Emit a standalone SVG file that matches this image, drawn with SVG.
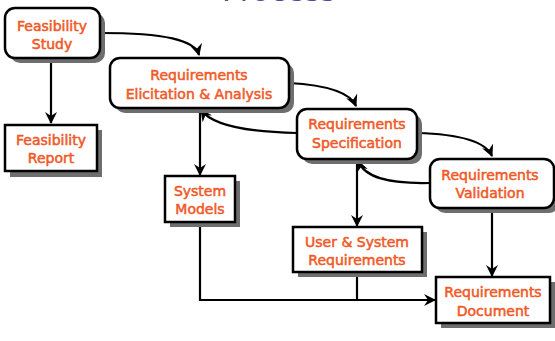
<svg xmlns="http://www.w3.org/2000/svg" width="555" height="341" viewBox="0 0 555 341">
<defs>
<marker id="ah" viewBox="0 0 12 12" refX="11" refY="6" markerWidth="12" markerHeight="12" markerUnits="userSpaceOnUse" orient="auto">
<path d="M0,0 L12,6 L0,12 L4,6 z" fill="#000"/>
</marker>
</defs>
<style>
.box{fill:#fff;stroke:#000;stroke-width:2.5}
.sh{fill:#6e6e6e}
.t{font-family:"Comic Sans MS","DejaVu Sans",sans-serif;font-size:14px;fill:#f05a28;stroke:#f05a28;stroke-width:0.55;text-anchor:middle}
.c{fill:none;stroke:#000;stroke-width:2.2}
.title{font-family:"Comic Sans MS","DejaVu Sans",sans-serif;font-size:30px;fill:#4a4a9a;text-anchor:middle}
</style>
<rect width="555" height="341" fill="#fff"/>
<text class="title" x="279" y="1">Process</text>
<g id="connectors">
<path class="c" d="M100,33 C165,33 195,40 199,55" marker-end="url(#ah)"/>
<path class="c" d="M51,58 L51,123" marker-end="url(#ah)"/>
<path class="c" d="M289,83 C325,85 350,92 356,106" marker-end="url(#ah)"/>
<path class="c" d="M417,133 C455,134 485,140 492,156" marker-end="url(#ah)"/>
<path class="c" d="M430,183 C390,184 365,178 358,161" marker-end="url(#ah)"/>
<path class="c" d="M297,133 C245,132 212,125 201,110" marker-end="url(#ah)"/>
<path class="c" d="M200,108 L200,175" marker-end="url(#ah)"/>
<path class="c" d="M357,159 L357,226" marker-end="url(#ah)"/>
<path class="c" d="M492,208 L492,276" marker-end="url(#ah)"/>
<path class="c" d="M200,222 L200,300 L435,300" marker-end="url(#ah)"/>
<path class="c" d="M357,272 L357,300"/>
</g>
<g id="feasibility-study">
<rect class="sh" x="10" y="13" width="95" height="50" rx="10"/>
<rect class="box" x="5" y="8" width="95" height="50" rx="10"/>
<text class="t" x="52" y="31">Feasibility</text>
<text class="t" x="52" y="49">Study</text>
</g>
<g id="feasibility-report">
<rect class="sh" x="10" y="130" width="92" height="47"/>
<rect class="box" x="5" y="125" width="92" height="46"/>
<text class="t" x="51" y="145">Feasibility</text>
<text class="t" x="51" y="163">Report</text>
</g>
<g id="elicitation">
<rect class="sh" x="115" y="63" width="179" height="50" rx="10"/>
<rect class="box" x="110" y="58" width="179" height="50" rx="10"/>
<text class="t" x="199" y="80">Requirements</text>
<text class="t" x="199" y="99">Elicitation &amp; Analysis</text>
</g>
<g id="specification">
<rect class="sh" x="302" y="114" width="120" height="50" rx="10"/>
<rect class="box" x="297" y="109" width="120" height="50" rx="10"/>
<text class="t" x="357" y="129">Requirements</text>
<text class="t" x="357" y="148">Specification</text>
</g>
<g id="validation">
<rect class="sh" x="435" y="164" width="124" height="49" rx="10"/>
<rect class="box" x="430" y="159" width="124" height="49" rx="10"/>
<text class="t" x="490" y="180">Requirements</text>
<text class="t" x="490" y="198">Validation</text>
</g>
<g id="system-models">
<rect class="sh" x="170" y="181" width="70" height="46"/>
<rect class="box" x="165" y="176" width="70" height="46"/>
<text class="t" x="200" y="196">System</text>
<text class="t" x="200" y="214">Models</text>
</g>
<g id="user-system-requirements">
<rect class="sh" x="298" y="232" width="129" height="45"/>
<rect class="box" x="293" y="227" width="129" height="45"/>
<text class="t" x="357" y="247">User &amp; System</text>
<text class="t" x="357" y="265">Requirements</text>
</g>
<g id="requirements-document">
<rect class="sh" x="441" y="282" width="114" height="46"/>
<rect class="box" x="436" y="277" width="114" height="46"/>
<text class="t" x="493" y="297">Requirements</text>
<text class="t" x="493" y="316">Document</text>
</g>
</svg>
